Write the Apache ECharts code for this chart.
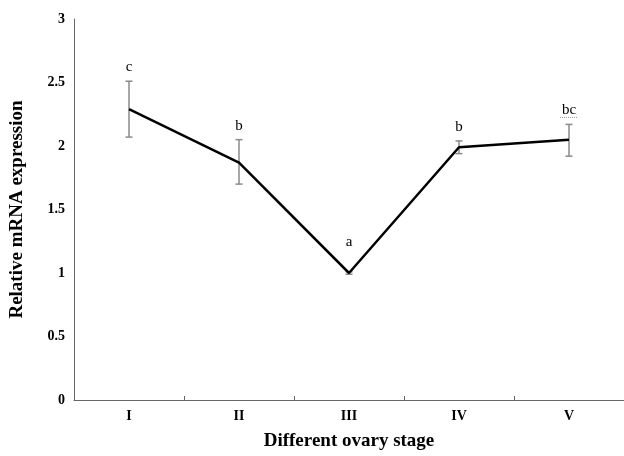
<!DOCTYPE html>
<html>
<head>
<meta charset="utf-8">
<script src="https://cdn.jsdelivr.net/npm/echarts@6/dist/echarts.min.js"></script>
<style>
  html, body { margin: 0; padding: 0; background: #fff; overflow: hidden; }
  #chart { width: 624px; height: 456px; }
</style>
</head>
<body>
<div id="chart"></div>
<script>
// Relative mRNA expression across ovary stages (mean ± error, significance letters)
const stages = ['I', 'II', 'III', 'IV', 'V'];
const meanExpr = [2.29, 1.87, 1.00, 1.99, 2.05];
const errUpper = [2.51, 2.05, 1.01, 2.04, 2.17];
const errLower = [2.07, 1.70, 0.99, 1.94, 1.92];
const sigLetters = ['c', 'b', 'a', 'b', 'bc'];
const yTicks = [0, 0.5, 1, 1.5, 2, 2.5, 3];

const serif = '"Liberation Serif", "DejaVu Serif", serif';
// letters that carry a dotted proofing underline
const underlinedLetters = ['bc'];

const errData = stages.map((s, i) => [i, errLower[i], errUpper[i], sigLetters[i]]);

const chart = echarts.init(document.getElementById('chart'));
chart.setOption({
  backgroundColor: '#fff',
  animation: false,
  grid: { left: 69, right: -5, top: 19, bottom: 50, containLabel: false },
  xAxis: {
    type: 'category',
    data: stages,
    boundaryGap: true,
    name: 'Different ovary stage',
    nameLocation: 'middle',
    nameGap: 32,
    nameTextStyle: { fontFamily: serif, fontWeight: 'bold', fontSize: 19, color: '#000' },
    axisLine: { lineStyle: { color: '#666', width: 1 } },
    axisTick: { show: true, inside: true, length: 4, alignWithLabel: false, lineStyle: { color: '#666' } },
    axisLabel: { fontFamily: serif, fontWeight: 'bold', fontSize: 14, color: '#000', margin: 9 },
    splitLine: { show: false }
  },
  yAxis: {
    type: 'value',
    min: yTicks[0],
    max: yTicks[yTicks.length - 1],
    interval: 0.5,
    name: 'Relative mRNA expression',
    nameLocation: 'middle',
    nameRotate: 90,
    nameGap: 47,
    nameTextStyle: { fontFamily: serif, fontWeight: 'bold', fontSize: 19, color: '#000' },
    axisLine: { show: true, lineStyle: { color: '#666', width: 1 } },
    axisTick: { show: false },
    axisLabel: { fontFamily: serif, fontWeight: 'bold', fontSize: 14, color: '#000', margin: 9 },
    splitLine: { show: false }
  },
  series: [
    {
      type: 'line',
      data: meanExpr,
      symbol: 'none',
      lineStyle: { color: '#000', width: 2.5 },
      z: 3
    },
    {
      type: 'custom',
      data: errData,
      encode: { x: 0, y: [1, 2] },
      z: 2,
      renderItem: function (params, api) {
        const i = api.value(0);
        const lo = api.coord([i, api.value(1)]);
        const hi = api.coord([i, api.value(2)]);
        const letter = api.value(3);
        const cap = 3.5;
        const stroke = { stroke: '#8a8a8a', lineWidth: 1.5 };
        // a letter over a very short bar sits higher above it
        const gap = (hi[1] > lo[1] - 4) ? 30 : 14;
        const ty = hi[1] - gap;
        const children = [
          { type: 'line', shape: { x1: hi[0], y1: hi[1], x2: lo[0], y2: lo[1] }, style: stroke },
          { type: 'line', shape: { x1: hi[0] - cap, y1: hi[1], x2: hi[0] + cap, y2: hi[1] }, style: stroke },
          { type: 'line', shape: { x1: lo[0] - cap, y1: lo[1], x2: lo[0] + cap, y2: lo[1] }, style: stroke },
          {
            type: 'text',
            style: {
              x: hi[0], y: ty, text: letter, fill: '#000',
              font: '15px ' + serif, align: 'center', verticalAlign: 'middle'
            }
          }
        ];
        if (underlinedLetters.indexOf(letter) >= 0) {
          const halfW = 9;
          children.push({
            type: 'line',
            shape: { x1: hi[0] - halfW, y1: ty + 7, x2: hi[0] + halfW, y2: ty + 7 },
            style: { stroke: '#9a9a9a', lineWidth: 1, lineDash: [1, 1] }
          });
        }
        return { type: 'group', children: children };
      }
    }
  ]
});
</script>
</body>
</html>
